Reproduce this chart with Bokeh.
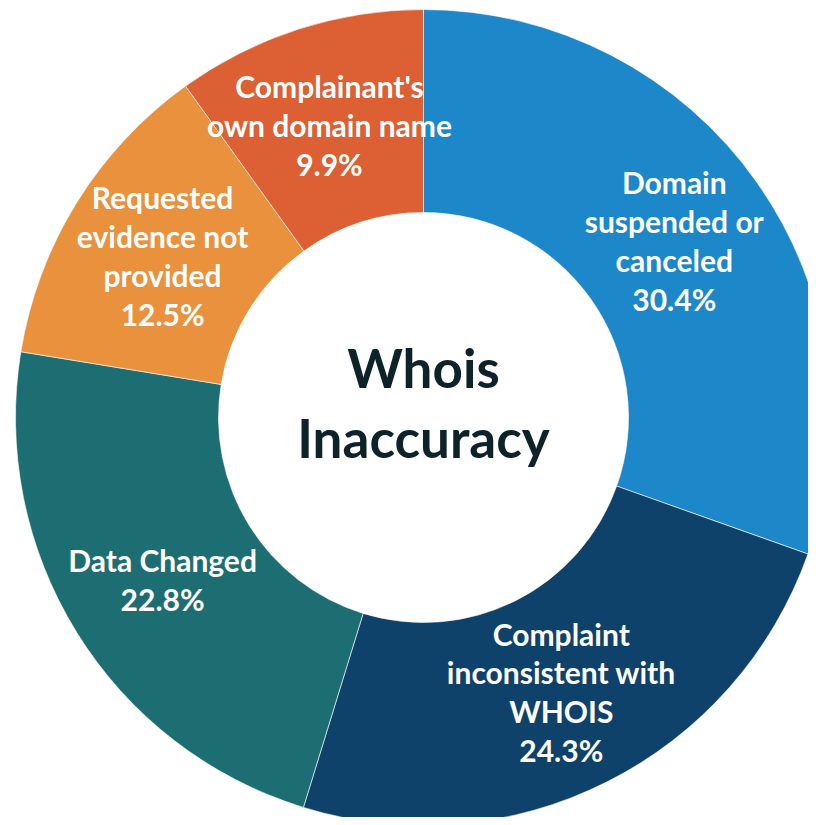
import numpy as np
from bokeh.plotting import figure
from bokeh.models import ColumnDataSource, Range1d
from bokeh.core.properties import value
from bokeh.embed import file_html
from bokeh.resources import INLINE

categories = ["Domain\nsuspended or\ncanceled", "Complaint\ninconsistent with\nWHOIS",
              "Data Changed", "Requested\nevidence not\nprovided", "Complainant's\nown domain name"]
values = [30.4, 24.3, 22.8, 12.5, 9.9]
colors = ["#1c87c9", "#0f426a", "#1d6e72", "#e9913c", "#dc6034"]
title_lines = "Whois\nInaccuracy"

W, H = 808, 817
cx, cy = 423, 417
R_OUT, R_IN, R_LAB = 408, 205, 307

vals = np.array(values)
frac = vals / vals.sum()
cum = np.concatenate([[0], np.cumsum(frac)])
start = np.pi / 2 - cum[:-1] * 2 * np.pi
end = np.pi / 2 - cum[1:] * 2 * np.pi
mid = (start + end) / 2

src = ColumnDataSource(dict(
    start=end, end=start, color=colors,
    lx=R_LAB * np.cos(mid), ly=R_LAB * np.sin(mid),
    label=[f"{c}\n{v}%" for c, v in zip(categories, values)],
))

p = figure(width=W, height=H, output_backend="svg", toolbar_location=None,
           x_range=Range1d(-cx, W - cx), y_range=Range1d(cy - H, cy),
           min_border=0, outline_line_color=None)
p.axis.visible = False
p.grid.visible = False
p.background_fill_color = "white"
p.border_fill_color = "white"

p.annular_wedge(x=0, y=0, inner_radius=R_IN, outer_radius=R_OUT,
                start_angle="start", end_angle="end", fill_color="color",
                line_color="white", line_width=1, line_alpha=0.6, source=src)

p.text(x="lx", y="ly", text="label", source=src, text_align="center",
       text_baseline="middle", text_color="white", text_font=value("Lato"),
       text_font_style="bold", text_font_size="30px", text_line_height=1.08)

p.text(x=[0], y=[15], text=[title_lines], text_align="center", text_baseline="middle",
       text_color="#0d2229", text_font=value("Lato"), text_font_style="bold",
       text_font_size="53px", text_line_height=1.11)

open("out.html", "w").write(file_html(p, INLINE))
